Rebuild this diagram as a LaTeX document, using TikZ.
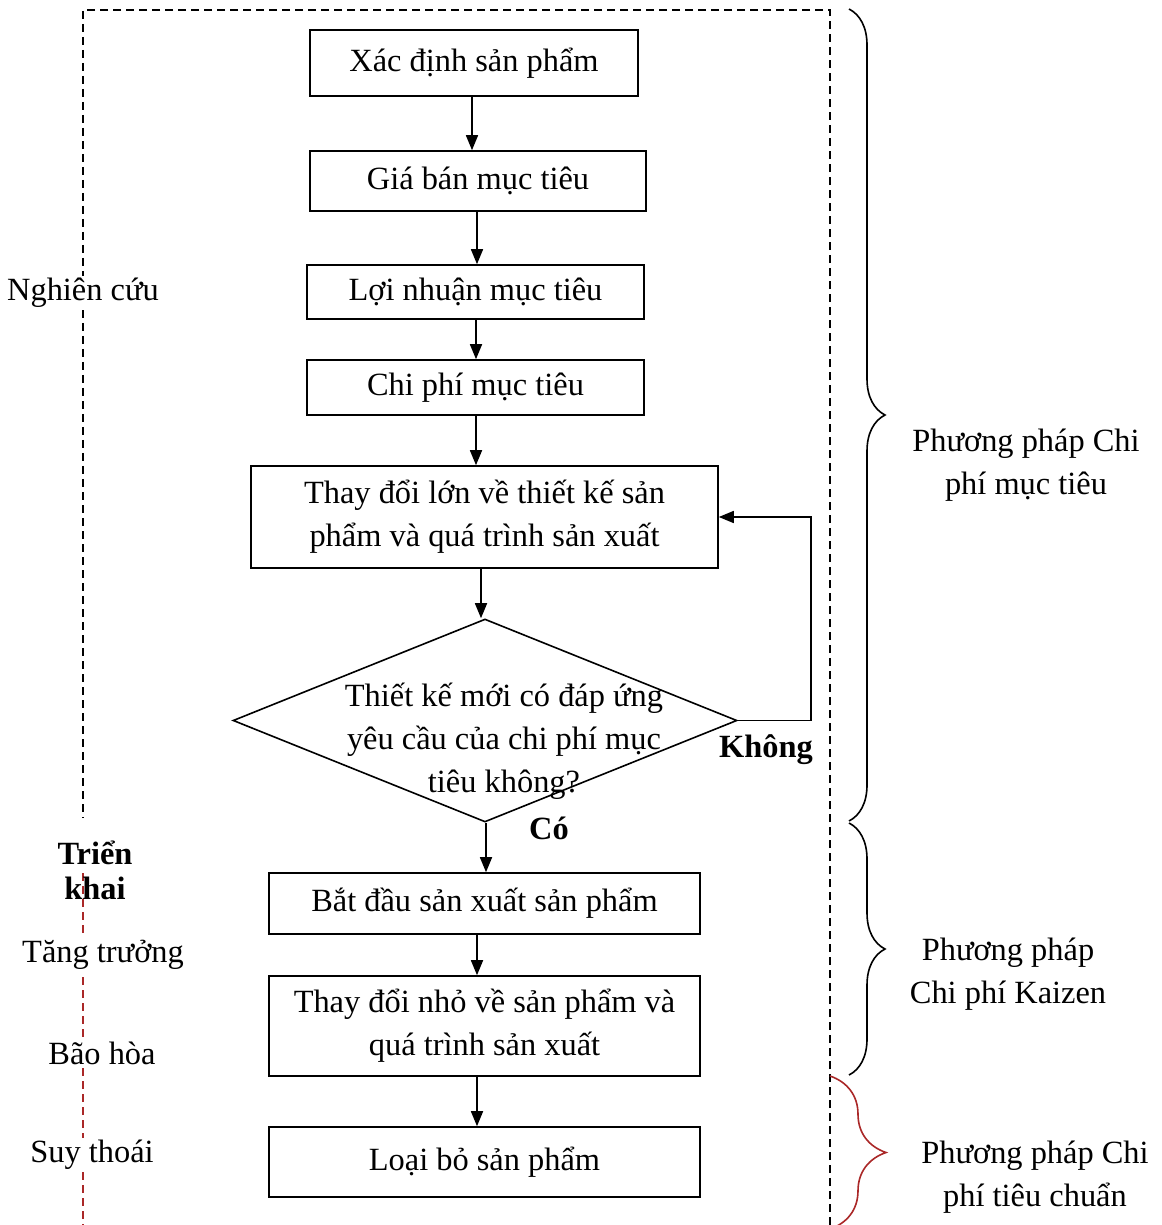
\documentclass[tikz,border=0pt]{standalone}
\usepackage{fontspec}
\setmainfont{Liberation Serif}
\usetikzlibrary{shapes.geometric,arrows.meta,decorations.pathreplacing}
\definecolor{phasered}{RGB}{170,40,40}

\begin{document}
\begin{tikzpicture}[x=0.5pt,y=-0.5pt,
  font=\fontsize{16.2}{21.5}\selectfont,
  stepbox/.style={draw, line width=0.8pt, inner sep=0pt, align=center},
  flow/.style={-{Triangle[width=6pt,length=7.5pt]}, line width=0.8pt},
  frame/.style={line width=0.6pt, dash pattern=on 4pt off 2.5pt},
  mbrace/.style={decorate, line width=0.8pt, decoration={brace, amplitude=#1}},
  side/.style={align=center, inner sep=1pt}]
  \useasboundingbox (0,0) rectangle (1161,1225);
  % dashed frame around the life cycle
  \draw[frame] (830,1225) -- (830,10) -- (83,10) -- (83,818);
  \draw[frame, phasered] (83,873) -- (83,1225);
  % flow chart boxes
  \node[stepbox, minimum width=164pt, minimum height=33pt] (prod) at (474,63) {Xác định sản phẩm};
  \node[stepbox, minimum width=168pt, minimum height=30pt] (price) at (478,181) {Giá bán mục tiêu};
  \node[stepbox, minimum width=168.5pt, minimum height=27pt] (profit) at (475.5,292) {Lợi nhuận mục tiêu};
  \node[stepbox, minimum width=168.5pt, minimum height=27.5pt] (cost) at (475.5,387.5) {Chi phí mục tiêu};
  \node[stepbox, minimum width=233.5pt, minimum height=51pt] (major) at (484.5,517) {Thay đổi lớn về thiết kế sản\\phẩm và quá trình sản xuất};
  \node[draw, diamond, line width=0.8pt, inner sep=0pt, minimum width=252pt, minimum height=101.5pt] (check) at (485,720.5) {};
  \node[align=center] (checktxt) at (504,741) {Thiết kế mới có đáp ứng\\yêu cầu của chi phí mục\\tiêu không?};
  \node[stepbox, minimum width=215.5pt, minimum height=30.5pt] (start) at (484.5,903.5) {Bắt đầu sản xuất sản phẩm};
  \node[stepbox, minimum width=215.5pt, minimum height=50pt] (minor) at (484.5,1026) {Thay đổi nhỏ về sản phẩm và\\quá trình sản xuất};
  \node[stepbox, minimum width=215.5pt, minimum height=35pt] (drop) at (484.5,1162) {Loại bỏ sản phẩm};
  % arrows
  \draw[flow] (prod.south -| 472,0) -- (price.north -| 472,0);
  \draw[flow] (price.south -| 477,0) -- (profit.north -| 477,0);
  \draw[flow] (profit.south -| 476,0) -- (cost.north -| 476,0);
  \draw[flow] (cost.south -| 476,0) -- (major.north -| 476,0);
  \draw[flow] (major.south -| 481,0) -- (check.north -| 481,0);
  \draw[flow] (check.south -| 486,0) -- (start.north -| 486,0);
  \draw[flow] (start.south -| 477,0) -- (minor.north -| 477,0);
  \draw[flow] (minor.south -| 477,0) -- (drop.north -| 477,0);
  \draw[flow] (check.east) -- (811,720.5) |- (major.east);
  \node[font=\fontsize{16.2}{18}\bfseries] (no) at (766,750) {Không};
  \node[font=\fontsize{16.2}{18}\bfseries] (yes) at (549,828) {Có};
  % life cycle phases
  \node[side, fill=white] (research) at (83,293) {Nghiên cứu};
  \node[side, font=\fontsize{16.2}{17.5}\bfseries] (launch) at (95,870.5) {Triển\\khai};
  \node[side, fill=white] (growth) at (103,955) {Tăng trưởng};
  \node[side, fill=white] (mature) at (102,1053) {Bão hòa};
  \node[side, fill=white] (decline) at (92,1155) {Suy thoái};
  % cost methods
  \draw[mbrace=18pt] (849,9) -- (849,821);
  \draw[mbrace=18pt] (849,823) -- (849,1075);
  \draw[mbrace=28pt, phasered] (830,1076) -- (830,1229);
  \node[side] (target) at (1026,465.5) {Phương pháp Chi\\phí mục tiêu};
  \node[side] (kaizen) at (1008,974) {Phương pháp\\Chi phí Kaizen};
  \node[side] (standard) at (1035,1177) {Phương pháp Chi\\phí tiêu chuẩn};
\end{tikzpicture}
\end{document}
